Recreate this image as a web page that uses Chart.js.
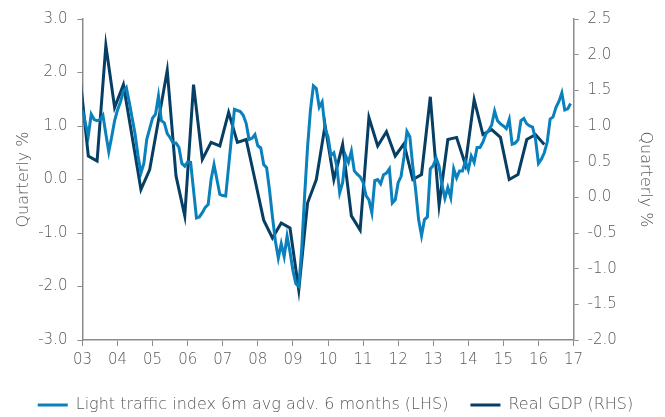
<!DOCTYPE html>
<html>
<head>
<meta charset="utf-8">
<script src="https://cdn.jsdelivr.net/npm/chart.js@4"></script>
<style>
  body { margin: 0; background: #fff; }
  #wrap { width: 665px; height: 417px; }
</style>
</head>
<body>
<div id="wrap"><canvas id="trafficChart" width="665" height="417"></canvas></div>
<script>
// year tick labels (Jan of each year)
const yearLabels = ["03", "04", "05", "06", "07", "08", "09", "10", "11", "12", "13", "14", "15", "16", "17"];

// light traffic index, 6m avg advanced 6 months, monthly from Jan 2003 (LHS)
const lightTraffic = [
  1.30, 1.05, 0.82, 1.22, 1.12, 1.10, 1.12, 1.20, 0.85, 0.52, 0.80, 1.10,
  1.30, 1.45, 1.65, 1.72, 1.45, 1.15, 0.85, 0.45, 0.12, 0.30, 0.75, 0.95,
  1.15, 1.22, 1.56, 1.10, 1.06, 0.86, 0.78, 0.68, 0.68, 0.60, 0.30, 0.25,
  0.33, 0.32, -0.20, -0.72, -0.70, -0.62, -0.52, -0.47, 0.00, 0.28, 0.00, -0.28,
  -0.30, -0.31, 0.24, 0.80, 1.31, 1.29, 1.27, 1.20, 1.05, 0.75, 0.77, 0.84,
  0.63, 0.59, 0.28, 0.22, -0.20, -0.70, -1.15, -1.47, -1.20, -1.44, -1.06, -1.35,
  -1.70, -1.95, -2.00, -1.30, -0.30, 0.60, 1.30, 1.75, 1.70, 1.35, 1.45, 0.95,
  0.80, 0.45, 0.50, 0.25, -0.25, -0.06, 0.45, 0.32, 0.53, 0.16, 0.10, 0.05,
  -0.05, -0.30, -0.38, -0.62, -0.02, 0.00, -0.08, 0.09, 0.12, 0.20, -0.44, -0.38,
  -0.06, 0.06, 0.42, 0.90, 0.80, 0.25, -0.20, -0.75, -1.05, -0.75, -0.70, 0.20,
  0.26, 0.40, 0.25, -0.10, -0.35, -0.15, -0.34, 0.20, 0.03, 0.16, 0.16, 0.34,
  0.18, 0.44, 0.32, 0.60, 0.60, 0.70, 0.85, 0.92, 1.02, 1.28, 1.10, 1.04,
  1.00, 0.95, 1.12, 0.66, 0.68, 0.74, 1.10, 1.14, 1.04, 1.00, 0.98, 0.75,
  0.30, 0.38, 0.50, 0.70, 1.13, 1.17, 1.35, 1.46, 1.62, 1.30, 1.32, 1.42
];

// real GDP q/q %, quarterly from Q4 2002 (RHS), plotted at quarter-end month
const realGdp = [
  1.75,
  0.58, 0.51, 2.13, 1.26,
  1.58, 0.85, 0.11, 0.39,
  1.08, 1.78, 0.30, -0.26,
  1.58, 0.53, 0.77, 0.72,
  1.19, 0.77, 0.81, 0.25,
  -0.32, -0.57, -0.36, -0.43,
  -1.30, -0.08, 0.25, 1.01,
  0.25, 0.74, -0.26, -0.46,
  1.12, 0.72, 0.92, 0.58,
  0.75, 0.25, 0.32, 1.41,
  -0.11, 0.81, 0.84, 0.46,
  1.37, 0.88, 0.95, 0.84,
  0.25, 0.32, 0.81, 0.88,
  0.74
];

const lightColor = "#0a80bd";
const gdpColor = "#063f63";
const textColor = "#595959";
const axisColor = "#8c8c8c";
const fontName = "'DejaVu Sans', sans-serif";

// x = months since Jan 2003
let lightPoints = [];
for (let i = 0; i < lightTraffic.length; i++) {
  lightPoints.push({ x: i, y: lightTraffic[i] });
}
let gdpPoints = [];
for (let i = 0; i < realGdp.length; i++) {
  gdpPoints.push({ x: 3 * i - 1, y: realGdp[i] });
}

let ctx = document.getElementById("trafficChart").getContext("2d");
let chart = new Chart(ctx, {
  type: "line",
  data: {
    datasets: [
      {
        label: "Light traffic index 6m avg adv. 6 months (LHS)",
        data: lightPoints,
        borderColor: lightColor,
        backgroundColor: lightColor,
        borderWidth: 3,
        pointRadius: 0,
        pointStyle: "line",
        yAxisID: "yLeft",
      },
      {
        label: "Real GDP (RHS)",
        data: gdpPoints,
        borderColor: gdpColor,
        backgroundColor: gdpColor,
        borderWidth: 3,
        pointRadius: 0,
        pointStyle: "line",
        yAxisID: "yRight",
      },
    ],
  },
  options: {
    responsive: false,
    animation: false,
    layout: { padding: { left: 12, right: 6, top: 8, bottom: -6 } },
    plugins: {
      tooltip: { enabled: false },
      legend: {
        position: "bottom",
        labels: {
          usePointStyle: true,
          pointStyleWidth: 30,
          color: textColor,
          font: { family: fontName, size: 16, weight: 300 },
          padding: 22,
        },
      },
    },
    scales: {
      x: {
        type: "linear",
        min: 0,
        max: 168,
        border: { display: true, color: axisColor, width: 1.5 },
        grid: { display: true, drawOnChartArea: false, drawTicks: true, tickLength: 6, color: axisColor },
        ticks: {
          stepSize: 12,
          color: textColor,
          font: { family: fontName, size: 15, weight: 300 },
          padding: 5,
          maxRotation: 0,
          callback: (v) => yearLabels[v / 12],
        },
        // extra room between year labels and legend
        afterFit: (axis) => { axis.height += 1; },
      },
      yLeft: {
        position: "left",
        min: -3,
        max: 3,
        border: { display: true, color: axisColor, width: 1.5 },
        grid: { display: true, drawOnChartArea: false, drawTicks: true, tickLength: 5, color: axisColor },
        ticks: {
          stepSize: 1,
          color: textColor,
          font: { family: fontName, size: 15, weight: 300 },
          padding: 10,
          callback: (v) => v.toFixed(1),
        },
        title: {
          display: true,
          text: "Quarterly %",
          color: textColor,
          font: { family: fontName, size: 16, weight: 300 },
          padding: { top: 2, bottom: -5 },
        },
      },
      yRight: {
        position: "right",
        min: -2,
        max: 2.5,
        border: { display: true, color: axisColor, width: 1.5 },
        grid: { display: true, drawOnChartArea: false, drawTicks: true, tickLength: 5, color: axisColor },
        ticks: {
          stepSize: 0.5,
          color: textColor,
          font: { family: fontName, size: 15, weight: 300 },
          padding: 9,
          callback: (v) => v.toFixed(1),
        },
        title: {
          display: true,
          text: "Quarterly %",
          color: textColor,
          font: { family: fontName, size: 16, weight: 300 },
          padding: { top: 4, bottom: 10 },
        },
      },
    },
  },
});
</script>
</body>
</html>
